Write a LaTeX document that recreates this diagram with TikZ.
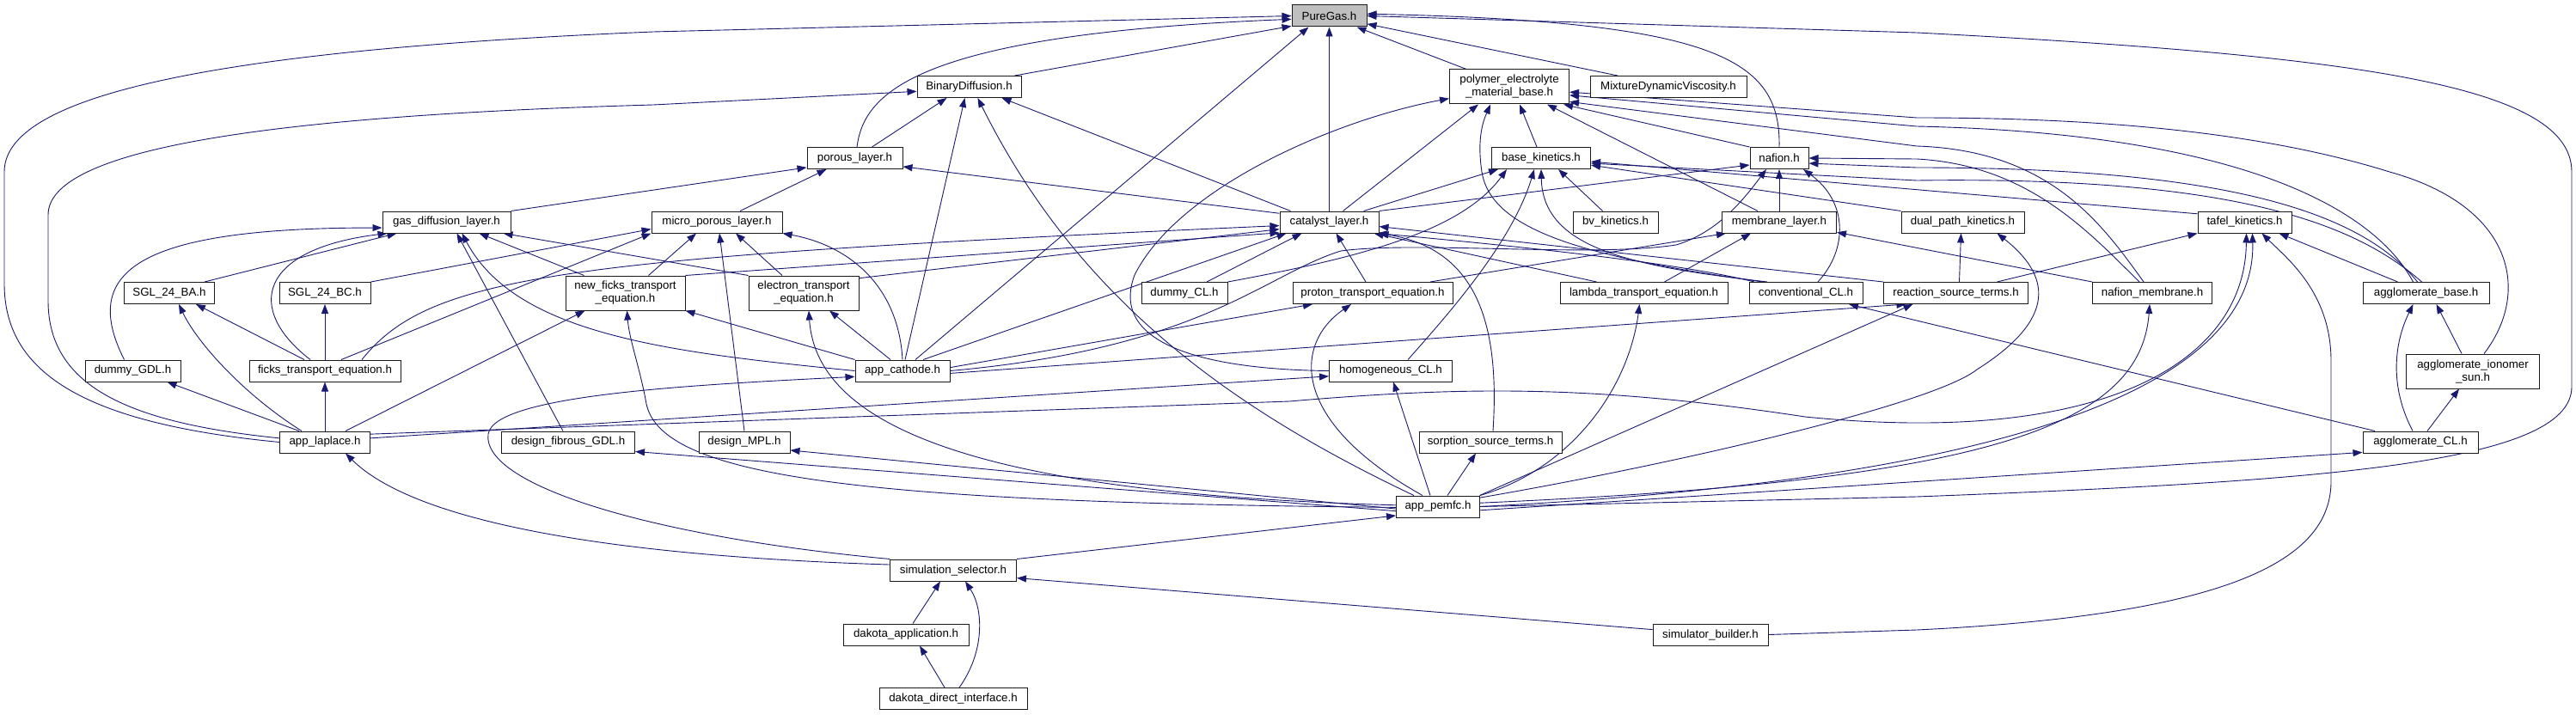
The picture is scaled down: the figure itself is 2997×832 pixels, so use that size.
\documentclass[tikz,border=0pt]{standalone}
\usepackage{fontspec}
\setmainfont{Liberation Sans}
\usetikzlibrary{arrows.meta}
\definecolor{edgec}{HTML}{191970}
\definecolor{pgfill}{HTML}{BFBFBF}
\definecolor{boxc}{HTML}{1A1A1A}
\pgfdeclarelayer{bg}
\pgfsetlayers{bg,main}
\tikzset{
  box/.style={draw=boxc, line width=1pt, fill=white, minimum height=25pt, inner sep=0pt, align=center, font=\fontsize{13.3}{15}\selectfont},
  tall/.style={minimum height=40pt},
  edg/.style={draw=edgec, line width=0.9pt, -{Triangle[length=11pt,width=8pt]}}
}
\begin{document}
\begin{tikzpicture}[x=1pt,y=-1pt]
\useasboundingbox (0,0) rectangle (2997,832);
% nodes
\node[box,minimum width=87pt,fill=pgfill] (pg) at (1546.5,18.5) {PureGas.h};
\node[box,minimum width=121pt] (bd) at (1127.5,101) {BinaryDiffusion.h};
\node[box,tall,minimum width=139pt] (pemb) at (1756,101) {polymer\_electrolyte\\\_material\_base.h};
\node[box,minimum width=182pt] (mdv) at (1941,101) {MixtureDynamicViscosity.h};
\node[box,minimum width=111pt] (por) at (994.5,184) {porous\_layer.h};
\node[box,minimum width=115pt] (bk) at (1793,184) {base\_kinetics.h};
\node[box,minimum width=68pt] (naf) at (2070,184) {nafion.h};
\node[box,minimum width=149pt] (gdl) at (519.5,258.5) {gas\_diffusion\_layer.h};
\node[box,minimum width=152pt] (mpl) at (834,258.5) {micro\_porous\_layer.h};
\node[box,minimum width=115pt] (cat) at (1546.5,258.5) {catalyst\_layer.h};
\node[box,minimum width=99pt] (bv) at (1879.5,258.5) {bv\_kinetics.h};
\node[box,minimum width=133pt] (mem) at (2070,258.5) {membrane\_layer.h};
\node[box,minimum width=143pt] (dpk) at (2283.5,258.5) {dual\_path\_kinetics.h};
\node[box,minimum width=109pt] (taf) at (2611.5,258.5) {tafel\_kinetics.h};
\node[box,minimum width=105pt] (sba) at (197,341) {SGL\_24\_BA.h};
\node[box,minimum width=106pt] (sbc) at (378,341) {SGL\_24\_BC.h};
\node[box,tall,minimum width=139pt] (nft) at (727.5,341) {new\_ficks\_transport\\\_equation.h};
\node[box,tall,minimum width=128pt] (ete) at (935,341) {electron\_transport\\\_equation.h};
\node[box,minimum width=100pt] (dcl) at (1378,341) {dummy\_CL.h};
\node[box,minimum width=186pt] (pte) at (1597,341) {proton\_transport\_equation.h};
\node[box,minimum width=195pt] (lte) at (1912.5,341) {lambda\_transport\_equation.h};
\node[box,minimum width=132pt] (ccl) at (2101,341) {conventional\_CL.h};
\node[box,minimum width=168pt] (rst) at (2275.5,341) {reaction\_source\_terms.h};
\node[box,minimum width=139pt] (nm) at (2504,341) {nafion\_membrane.h};
\node[box,minimum width=147pt] (ab) at (2822.5,341) {agglomerate\_base.h};
\node[box,minimum width=111pt] (dgdl) at (154.5,431.5) {dummy\_GDL.h};
\node[box,minimum width=176pt] (fte) at (378,431.5) {ficks\_transport\_equation.h};
\node[box,minimum width=110pt] (ac) at (1050,431.5) {app\_cathode.h};
\node[box,minimum width=143pt] (hcl) at (1618,431.5) {homogeneous\_CL.h};
\node[box,tall,minimum width=155pt] (ais) at (2877,432) {agglomerate\_ionomer\\\_sun.h};
\node[box,minimum width=105pt] (al) at (378,514.5) {app\_laplace.h};
\node[box,minimum width=155pt] (dfg) at (661,514.5) {design\_fibrous\_GDL.h};
\node[box,minimum width=106pt] (dmpl) at (866,514.5) {design\_MPL.h};
\node[box,minimum width=166pt] (sst) at (1734,514.5) {sorption\_source\_terms.h};
\node[box,minimum width=134pt] (acl) at (2816,514.5) {agglomerate\_CL.h};
\node[box,minimum width=97pt] (ap) at (1673,589.5) {app\_pemfc.h};
\node[box,minimum width=147pt] (ss) at (1109,663.5) {simulation\_selector.h};
\node[box,minimum width=146pt] (da) at (1054,738.5) {dakota\_application.h};
\node[box,minimum width=134pt] (sb) at (1990,738.5) {simulator\_builder.h};
\node[box,minimum width=172pt] (ddi) at (1109,813) {dakota\_direct\_interface.h};

\begin{pgfonlayer}{bg}
% PureGas
\draw[edg] (al.west) .. controls (90,492) and (5,430) .. (5,330) -- (5,200) .. controls (5,120) and (200,60) .. (760,37) -- (pg.west);
\draw[edg] ([xshift=2.5pt]por.north) .. controls (1005,110) and (1060,40) .. (pg.185);
\draw[edg] ([xshift=53pt]bd.north) -- (pg.195);
\draw[edg] ([xshift=15pt]ac.north) -- ([xshift=-24pt]pg.south);
\draw[edg] (cat.north) -- (pg.south);
\draw[edg] ([xshift=-50pt]pemb.north) -- ([xshift=32pt]pg.south);
\draw[edg] ([xshift=-59pt]mdv.north) -- (pg.-12);
\draw[edg] (naf.north) .. controls (2072,70) and (2000,25) .. (pg.3);
\draw[edg] (ap.east) -- (2230,578) .. controls (2700,560) and (2992,540) .. (2992,450) -- (2992,200) .. controls (2992,100) and (2750,65) .. (2230,38) -- (pg.east);
% BinaryDiffusion
\draw[edg] (al.175) .. controls (150,492) and (56,450) .. (56,350) -- (56,250) .. controls (56,175) and (300,135) .. (760,122) -- (bd.185);
\draw[edg] ([xshift=20pt]por.north) -- ([xshift=-26pt]bd.south);
\draw[edg] ([xshift=3pt]ac.north) -- ([xshift=-5pt]bd.south);
\draw[edg] ([xshift=-28pt]ap.north) .. controls (1420,470) and (1250,340) .. ([xshift=10pt]bd.south);
\draw[edg] ([xshift=-45pt]cat.north) -- ([xshift=38pt]bd.south);
% porous
\draw[edg] (gdl.north east) -- (por.191);
\draw[edg] ([xshift=27pt]mpl.north) -- ([xshift=-33pt]por.south);
\draw[edg] (cat.170) -- (por.-10);
% pemb
\draw[edg] (hcl.west) .. controls (1400,430) and (1290,400) .. (1320,320) .. controls (1370,220) and (1550,140) .. (pemb.191);
\draw[edg] ([xshift=16pt]cat.north) -- ([xshift=-36pt]pemb.south);
\draw[edg] ([xshift=-50pt]ccl.north) .. controls (1850,300) and (1735,270) .. (1724,200) .. controls (1718,160) and (1726,140) .. ([xshift=-22pt]pemb.south);
\draw[edg] ([xshift=-5pt]bk.north) -- ([xshift=12pt]pemb.south);
\draw[edg] ([xshift=-25pt]mem.north) -- ([xshift=44pt]pemb.south);
\draw[edg] (naf.north west) -- (pemb.-18);
\draw[edg] ([xshift=-15pt]ab.north) .. controls (2760,240) and (2600,155) .. (2230,147) -- (pemb.-8);
\draw[edg] ([xshift=13pt]ais.north) .. controls (2945,340) and (2925,240) .. (2780,200) .. controls (2620,150) and (2420,137) .. (2230,137) -- (pemb.-5);
\draw[edg] ([xshift=-10pt]nm.north) .. controls (2445,260) and (2385,175) .. (2230,170) -- (pemb.-14);
% base_kinetics
\draw[edg] ([xshift=40pt]cat.north) -- ([xshift=-50pt]bk.south);
\draw[edg] (dcl.north east) .. controls (1580,300) and (1700,270) .. ([xshift=-40pt]bk.south);
\draw[edg] ([xshift=20pt]hcl.north) .. controls (1690,360) and (1760,280) .. ([xshift=-8pt]bk.south);
\draw[edg] ([xshift=-45pt]ccl.north) .. controls (1900,310) and (1795,290) .. (bk.south);
\draw[edg] ([xshift=-15pt]bv.north) -- ([xshift=20pt]bk.south);
\draw[edg] (dpk.north west) -- (bk.-8);
\draw[edg] (taf.170) -- (bk.-4);
\draw[edg] ([xshift=-5pt]ab.north) .. controls (2740,260) and (2600,205) .. (2230,210) -- (bk.-6);
% nafion
\draw[edg] ([xshift=-10pt]ab.north) .. controls (2750,250) and (2600,195) .. (2230,195) -- (naf.-10);
\draw[edg] ([xshift=-15pt]nm.north) .. controls (2430,270) and (2360,192) .. (2230,185) -- (naf.east);
\draw[edg] (cat.north east) -- (naf.193);
\draw[edg] (ac.east) .. controls (1400,405) and (1470,320) .. (1560,292) .. controls (1650,280) and (1850,300) .. (1950,285) .. controls (2000,270) and (2030,230) .. ([xshift=-15pt]naf.south);
\draw[edg] (mem.north) -- (naf.south);
\draw[edg] ([xshift=14pt]ccl.north) .. controls (2150,290) and (2150,235) .. ([xshift=28pt]naf.south);
% membrane
\draw[edg] (nm.north west) -- (mem.-10);
\draw[edg] ([xshift=67pt]pte.north) -- ([xshift=-62pt]mem.south);
\draw[edg] ([xshift=24pt]lte.north) -- ([xshift=-33pt]mem.south);
% gas diffusion layer
\draw[edg] ([xshift=-10pt]dgdl.north) .. controls (95,320) and (150,265) .. (gdl.185);
\draw[edg] ([xshift=-17pt]fte.north) .. controls (285,360) and (300,290) .. ([xshift=-69pt]gdl.south);
\draw[edg] ([xshift=41pt]sba.north) -- ([xshift=-58pt]gdl.south);
\draw[edg] ([xshift=-6pt]dfg.north) -- ([xshift=12pt]gdl.south);
\draw[edg] (ac.west) .. controls (780,410) and (600,390) .. ([xshift=18pt]gdl.south);
\draw[edg] ([xshift=-48pt]nft.north) -- ([xshift=38pt]gdl.south);
\draw[edg] (ete.north west) -- ([xshift=66pt]gdl.south);
% micro porous layer
\draw[edg] (sbc.north east) -- (mpl.186);
\draw[edg] ([xshift=19pt]fte.north) -- (mpl.south west);
\draw[edg] ([xshift=27pt]nft.north) -- ([xshift=-24pt]mpl.south);
\draw[edg] (dmpl.north) -- ([xshift=3pt]mpl.south);
\draw[edg] ([xshift=-25pt]ete.north) -- ([xshift=22pt]mpl.south);
\draw[edg] (ac.north) .. controls (1045,330) and (985,285) .. (mpl.south east);
% catalyst layer
\draw[edg] (nft.north east) -- (cat.192);
\draw[edg] (ete.15) -- (cat.188);
\draw[edg] ([xshift=43pt]fte.north) .. controls (500,320) and (650,300) .. (cat.184);
\draw[edg] ([xshift=24pt]ac.north) -- ([xshift=-50pt]cat.south);
\draw[edg] ([xshift=26pt]dcl.north) -- ([xshift=-32pt]cat.south);
\draw[edg] ([xshift=-8pt]pte.north) -- ([xshift=8pt]cat.south);
\draw[edg] ([xshift=-55pt]lte.north) -- ([xshift=52pt]cat.south);
\draw[edg] ([xshift=-60pt]ccl.north) .. controls (1950,305) and (1750,285) .. ([xshift=56pt]cat.south);
\draw[edg] (rst.north west) -- (cat.-5);
\draw[edg] ([xshift=3pt]sst.north) .. controls (1745,380) and (1720,290) .. (cat.south east);
% kinetics
\draw[edg] ([xshift=4pt]rst.north) -- ([xshift=-2pt]dpk.south);
\draw[edg] ([xshift=48pt]rst.north) -- (taf.south west);
\draw[edg] ([xshift=-33pt]ab.north) -- ([xshift=40pt]taf.south);
% agglomerates
\draw[edg] ([xshift=-53pt]acl.north) -- ([xshift=50pt]ccl.south);
\draw[edg] ([xshift=-9pt]acl.north) .. controls (2780,450) and (2785,400) .. ([xshift=-15pt]ab.south);
\draw[edg] ([xshift=8pt]acl.north) -- ([xshift=-16pt]ais.south);
\draw[edg] ([xshift=-13pt]ais.north) -- ([xshift=12pt]ab.south);
% app_laplace
\draw[edg] ([xshift=-27pt]al.north) .. controls (285,460) and (230,400) .. ([xshift=11pt]sba.south);
\draw[edg] ([xshift=-24pt]fte.north) -- ([xshift=31pt]sba.south);
\draw[edg] (fte.north) -- (sbc.south);
\draw[edg] ([xshift=-30pt]al.north) -- ([xshift=40pt]dgdl.south);
\draw[edg] (al.north) -- (fte.south);
\draw[edg] ([xshift=24pt]al.north) -- ([xshift=-47pt]nft.south);
\draw[edg] (al.5) -- (hcl.185);
\draw[edg] (al.10) -- (1500,467) .. controls (1700,450) and (1850,447) .. (2100,485) .. controls (2450,520) and (2612,420) .. ([xshift=2pt]taf.south);
% app_cathode
\draw[edg] (ac.north west) -- (nft.south east);
\draw[edg] ([xshift=-14pt]ac.north) -- ([xshift=30pt]ete.south);
\draw[edg] (ac.4) -- ([xshift=-70pt]pte.south);
\draw[edg] (ac.-3) -- ([xshift=-58pt]rst.south);
% app_pemfc
\draw[edg] ([xshift=-18pt]ap.north) .. controls (1500,490) and (1505,400) .. ([xshift=-25pt]pte.south);
\draw[edg] ([xshift=-9pt]ap.north) -- ([xshift=3pt]hcl.south);
\draw[edg] ([xshift=11pt]ap.north) -- ([xshift=-17pt]sst.south);
\draw[edg] (ap.north east) .. controls (1830,545) and (1895,450) .. ([xshift=-5pt]lte.south);
\draw[edg] (ap.15) -- ([xshift=-50pt]rst.south);
\draw[edg] (ap.12) .. controls (1950,540) and (2250,470) .. (2300,430) .. controls (2395,370) and (2385,320) .. ([xshift=40pt]dpk.south);
\draw[edg] (ap.5) .. controls (2300,560) and (2490,500) .. ([xshift=-3pt]nm.south);
\draw[edg] (ap.east) .. controls (2400,555) and (2625,430) .. ([xshift=9pt]taf.south);
\draw[edg] (ap.-5) -- (acl.190);
\draw[edg] (ap.178) .. controls (1150,575) and (950,500) .. ([xshift=6pt]ete.south);
\draw[edg] (ap.181) .. controls (1000,585) and (770,555) .. (752,470) .. controls (745,430) and (732,395) .. ([xshift=2pt]nft.south);
\draw[edg] (ap.183) -- (dmpl.-10);
\draw[edg] (ap.186) -- (dfg.-8);
% simulation selector etc.
\draw[edg] (ss.north east) -- (ap.192);
\draw[edg] (ss.175) .. controls (650,645) and (470,595) .. ([xshift=24pt]al.south);
\draw[edg] (ss.170) .. controls (760,625) and (560,565) .. (568,505) .. controls (575,460) and (800,448) .. (ac.187);
\draw[edg] (sb.175) -- (ss.-7);
\draw[edg] (sb.east) -- (2230,733) .. controls (2600,715) and (2712,650) .. (2712,560) -- (2712,420) .. controls (2712,340) and (2660,300) .. ([xshift=20pt]taf.south);
\draw[edg] ([xshift=8pt]da.north) -- ([xshift=-15pt]ss.south);
\draw[edg] ([xshift=-10pt]ddi.north) -- ([xshift=16pt]da.south);
\draw[edg] ([xshift=7pt]ddi.north) .. controls (1145,760) and (1145,710) .. ([xshift=14pt]ss.south);
\end{pgfonlayer}
\end{tikzpicture}
\end{document}
